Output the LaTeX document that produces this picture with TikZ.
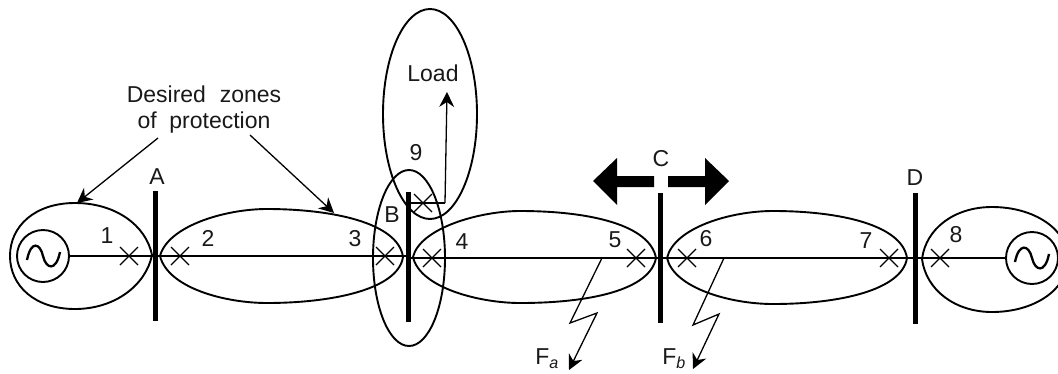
\documentclass[tikz,border=0pt]{standalone}
\usepackage{fontspec}
\setmainfont{Liberation Sans}
\usetikzlibrary{arrows.meta}
\tikzset{
  lbl/.style={font=\fontsize{23}{27}\selectfont,text=black!90,inner sep=0pt},
  zone/.style={line width=1.9pt,black},
  wire/.style={line width=1.6pt,black},
  bus/.style={line width=5pt,black},
  brk/.style={line width=1.3pt,black},
  lead/.style={line width=1.3pt,black,-{Stealth[length=15pt,width=15pt,inset=5pt]}},
  flash/.style={line width=1.3pt,black,-{Stealth[length=15pt,width=15pt,inset=5pt]}},
  src/.style={circle,draw,line width=1.9pt,minimum size=52pt,inner sep=0pt},
  cross/.pic={\draw[brk] (-9,-9) -- (9,9) (-9,9) -- (9,-9);}
}
\begin{document}
\begin{tikzpicture}[x=1pt,y=-1pt]
\useasboundingbox (0,0) rectangle (1058,373);
\clip (0,0) rectangle (1058,373);
% sources
\node[src] (s1) at (43,256) {};
\node[src] (s2) at (1032,258) {};
\draw[zone,line width=2.3pt] (27,260) .. controls (31,240) and (40,243) .. (43,256) .. controls (46,269) and (56,272) .. (60,252);
\draw[zone,line width=2.3pt] (1015,262) .. controls (1019,242) and (1029,245) .. (1032,258) .. controls (1035,271) and (1045,274) .. (1049,254);
% buses
\coordinate (a1) at (155,191); \coordinate (a2) at (155,321);
\coordinate (b1) at (408,192); \coordinate (b2) at (408,322);
\coordinate (c1) at (660,193); \coordinate (c2) at (660,323);
\coordinate (d1) at (915,193); \coordinate (d2) at (915,324);
\draw[bus] (a1) -- (a2);
\draw[bus] (b1) -- (b2);
\draw[bus] (c1) -- (c2);
\draw[bus] (d1) -- (d2);
% main line
\draw[wire] (s1.east) -- (408,256);
\draw[wire] (408,258) -- (s2.west);
% zones
\draw[zone] (152,255) .. controls (146,225) and (115,203) .. (75,203) .. controls (35,203) and (10,226) .. (10,256) .. controls (10,286) and (35,309) .. (75,309) .. controls (115,309) and (146,285) .. (152,255) -- cycle;
\draw[zone] (160,256) .. controls (168,226) and (225,209) .. (267,209) .. controls (330,209) and (398,222) .. (403,257) .. controls (398,290) and (330,303) .. (267,303) .. controls (225,303) and (168,288) .. (160,256) -- cycle;
\draw[zone] (413,257) .. controls (420,228) and (480,211) .. (520,211) .. controls (590,211) and (650,225) .. (656,258) .. controls (650,290) and (590,303) .. (520,303) .. controls (480,303) and (420,288) .. (413,257) -- cycle;
\draw[zone] (667,258) .. controls (674,228) and (730,211) .. (773,211) .. controls (840,211) and (902,225) .. (907,258) .. controls (902,290) and (840,304) .. (773,304) .. controls (730,304) and (674,288) .. (667,258) -- cycle;
\draw[zone] (922,259) .. controls (926,228) and (955,207) .. (992,207) .. controls (1035,207) and (1068,230) .. (1068,259) .. controls (1068,289) and (1035,312) .. (992,312) .. controls (955,312) and (926,290) .. (922,259) -- cycle;
\draw[zone] (409,258) ellipse [x radius=36,y radius=88];
\draw[zone] (430,114) ellipse [x radius=47,y radius=105];
% breakers
\pic at (129,256) {cross};
\pic at (180,256) {cross};
\pic at (385,256) {cross};
\pic at (432,258) {cross};
\pic at (423,203) {cross};
\pic at (636,258) {cross};
\pic at (687,258) {cross};
\pic at (889,258) {cross};
\pic at (940,258) {cross};
% load
\coordinate (lt) at (447,92);
\draw[brk] (408,203) -- (445,203);
\draw[lead] (445,203) -- (lt);
% block arrows
\fill[black] (654,176) -- (617,176) -- (617,158) -- (593,181) -- (617,205) -- (617,187) -- (654,187) -- cycle;
\fill[black] (668,176) -- (705,176) -- (705,158) -- (729,181) -- (705,205) -- (705,187) -- (668,187) -- cycle;
% faults
\coordinate (fa) at (569,370); \coordinate (fb) at (693,369);
\draw[flash] (602,258) -- (570,323) -- (597,313) -- (fa);
\draw[flash] (724,258) -- (693,325) -- (719,314) -- (fb);
% labels
\node[lbl,align=center,font=\fontsize{23}{26}\selectfont] (t) at (204,110) {Desired\hspace{0.6em}zones\\of\hspace{0.55em}protection};
\coordinate (t1) at (158,138); \coordinate (t2) at (250,135);
\draw[lead] (t1) -- (77,203);
\draw[lead] (t2) -- (334,213);
\node[lbl] (la) at (157,177) {A};
\node[lbl] (lb) at (392,215) {B};
\node[lbl] (lc) at (661,159) {C};
\node[lbl] (ld) at (915,178) {D};
\node[lbl] (n1) at (107,236) {1};
\node[lbl] (n2) at (208,238) {2};
\node[lbl] (n3) at (355,239) {3};
\node[lbl] (n4) at (462,242) {4};
\node[lbl] (n5) at (615,240) {5};
\node[lbl] (n6) at (706,239) {6};
\node[lbl] (n7) at (866,241) {7};
\node[lbl] (n8) at (956,235) {8};
\node[lbl] (n9) at (416,153) {9};
\node[lbl] (load) at (433,73) {Load};
\node[lbl] (ffa) at (547,359) {F\textsubscript{\textit{a}}};
\node[lbl] (ffb) at (674,359) {F\textsubscript{\textit{b}}};
\end{tikzpicture}
\end{document}
